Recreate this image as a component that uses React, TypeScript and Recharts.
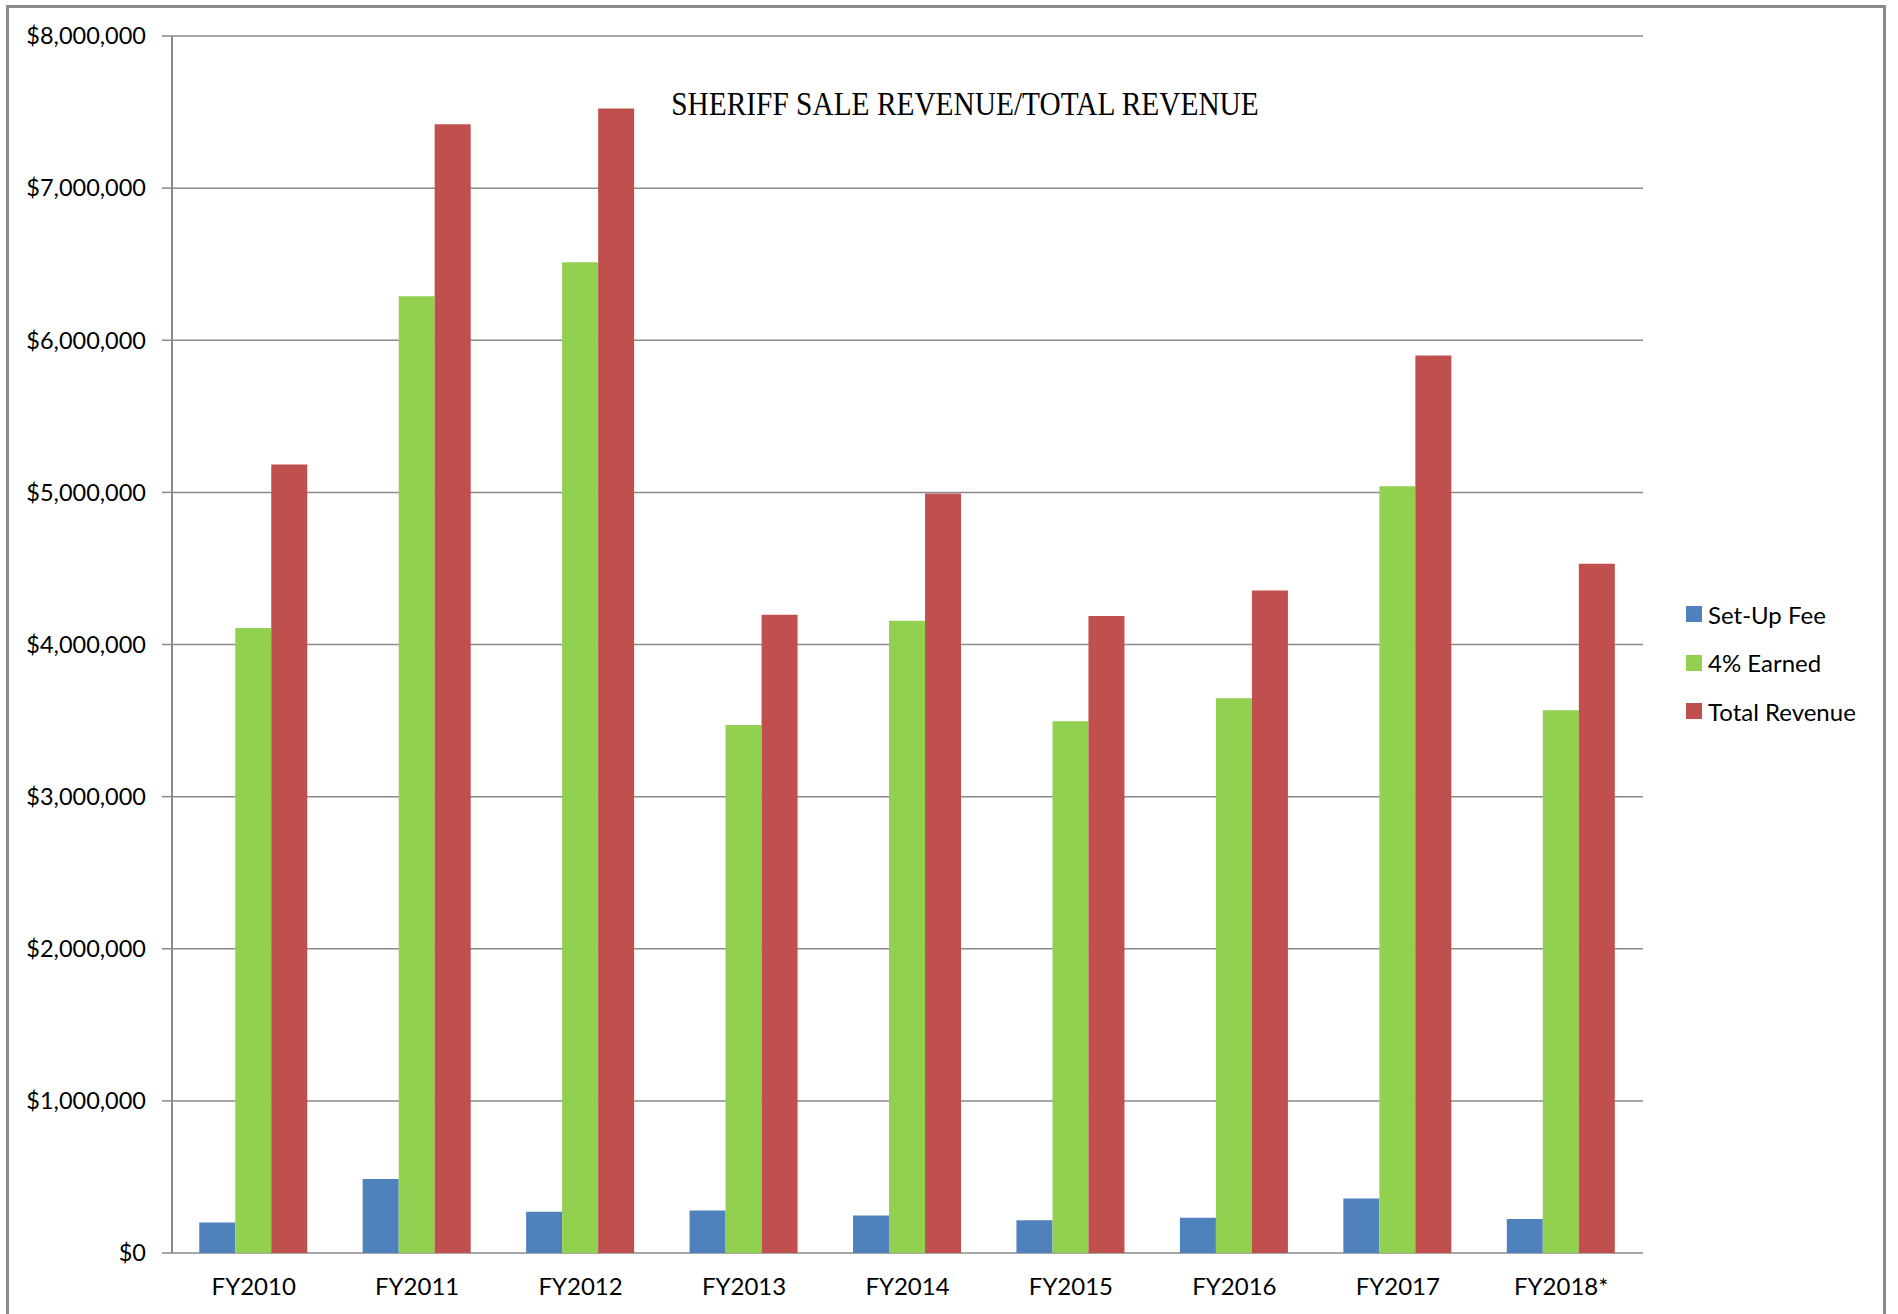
import { BarChart, Bar, XAxis, YAxis, CartesianGrid, Legend } from 'recharts';

const years = ['FY2010', 'FY2011', 'FY2012', 'FY2013', 'FY2014', 'FY2015', 'FY2016', 'FY2017', 'FY2018*'];
const setUpFee = [200000, 486000, 271000, 279000, 247000, 215000, 231000, 358000, 223000];
const earned = [4108000, 6290000, 6513000, 3471000, 4156000, 3495000, 3646000, 5040000, 3567000];
const totalRevenue = [5183000, 7420000, 7524000, 4196000, 4992000, 4188000, 4355000, 5900000, 4530000];
const yTicks = [0, 1000000, 2000000, 3000000, 4000000, 5000000, 6000000, 7000000, 8000000];
const edgeTicks = [0, 1, 2, 3, 4, 5, 6, 7, 8, 9];

const series = [
  { key: 'setUpFee', name: 'Set-Up Fee', color: '#4F81BD' },
  { key: 'earned', name: '4% Earned', color: '#92D050' },
  { key: 'total', name: 'Total Revenue', color: '#C0504D' },
];

const data = years.map((year, i) => ({
  year,
  setUpFee: setUpFee[i],
  earned: earned[i],
  total: totalRevenue[i],
}));

const GRAY = '#8a8a8a';
const FONT = 'Lato, "Open Sans", sans-serif';

const money = (v: number) => '$' + v.toLocaleString('en-US');

function LegendBox() {
  return (
    <div style={{ fontFamily: FONT, fontSize: 24, color: '#000' }}>
      {series.map(s => (
        <div key={s.key} style={{ display: 'flex', alignItems: 'center', height: 48.5 }}>
          <span style={{ width: 16, height: 16, background: s.color, marginRight: 6, display: 'inline-block' }} />
          <span>{s.name}</span>
        </div>
      ))}
    </div>
  );
}

export default function App() {
  return (
    <div style={{ position: 'relative', width: 1898, height: 1314, overflow: 'hidden', background: '#fff' }}>
      <style>{'body{margin:0;overflow:hidden}'}</style>
      <div
        style={{
          position: 'absolute', left: 6, top: 5, width: 1880, height: 1340,
          border: `3px solid ${GRAY}`, boxSizing: 'border-box',
        }}
      />
      <div
        style={{
          position: 'absolute', left: 965, top: 86, transform: 'translateX(-50%) scaleX(0.89)',
          fontFamily: '"Liberation Serif", "Times New Roman", serif', fontSize: 33, whiteSpace: 'nowrap',
          lineHeight: '36px', color: '#000',
        }}
      >
        SHERIFF SALE REVENUE/TOTAL REVENUE
      </div>
      <div style={{ position: 'absolute', left: 0, top: 0 }}>
        <BarChart
          width={1898}
          height={1314}
          data={data}
          margin={{ top: 36, right: 255, bottom: 0, left: 0 }}
          barCategoryGap="16.67%"
          barGap={0}
        >
          <CartesianGrid vertical={false} stroke={GRAY} strokeWidth={1.5} />
          <XAxis
            xAxisId="edges"
            type="number"
            domain={[0, 9]}
            ticks={edgeTicks}
            tick={false}
            tickSize={10}
            height={0}
            axisLine={{ stroke: GRAY, strokeWidth: 2 }}
            tickLine={{ stroke: GRAY, strokeWidth: 2 }}
          />
          <XAxis
            xAxisId="cat"
            dataKey="year"
            axisLine={false}
            tickLine={false}
            tickSize={0}
            tickMargin={25}
            height={61}
            interval={0}
            tick={{ fontFamily: FONT, fontSize: 24, fill: '#000' }}
          />
          <YAxis
            width={172}
            domain={[0, 8000000]}
            ticks={yTicks}
            tickFormatter={money}
            tickSize={10}
            tickMargin={16}
            axisLine={{ stroke: GRAY, strokeWidth: 2 }}
            tickLine={{ stroke: GRAY, strokeWidth: 1.5 }}
            tick={{ fontFamily: FONT, fontSize: 23.5, fill: '#000' }}
          />
          <Legend
            content={<LegendBox />}
            layout="vertical"
            align="center"
            verticalAlign="middle"
            wrapperStyle={{ position: 'absolute', left: 1686, top: 590, width: 200 }}
          />
          {series.map(s => (
            <Bar
              key={s.key}
              xAxisId="cat"
              dataKey={s.key}
              name={s.name}
              fill={s.color}
              isAnimationActive={false}
            />
          ))}
        </BarChart>
      </div>
    </div>
  );
}
